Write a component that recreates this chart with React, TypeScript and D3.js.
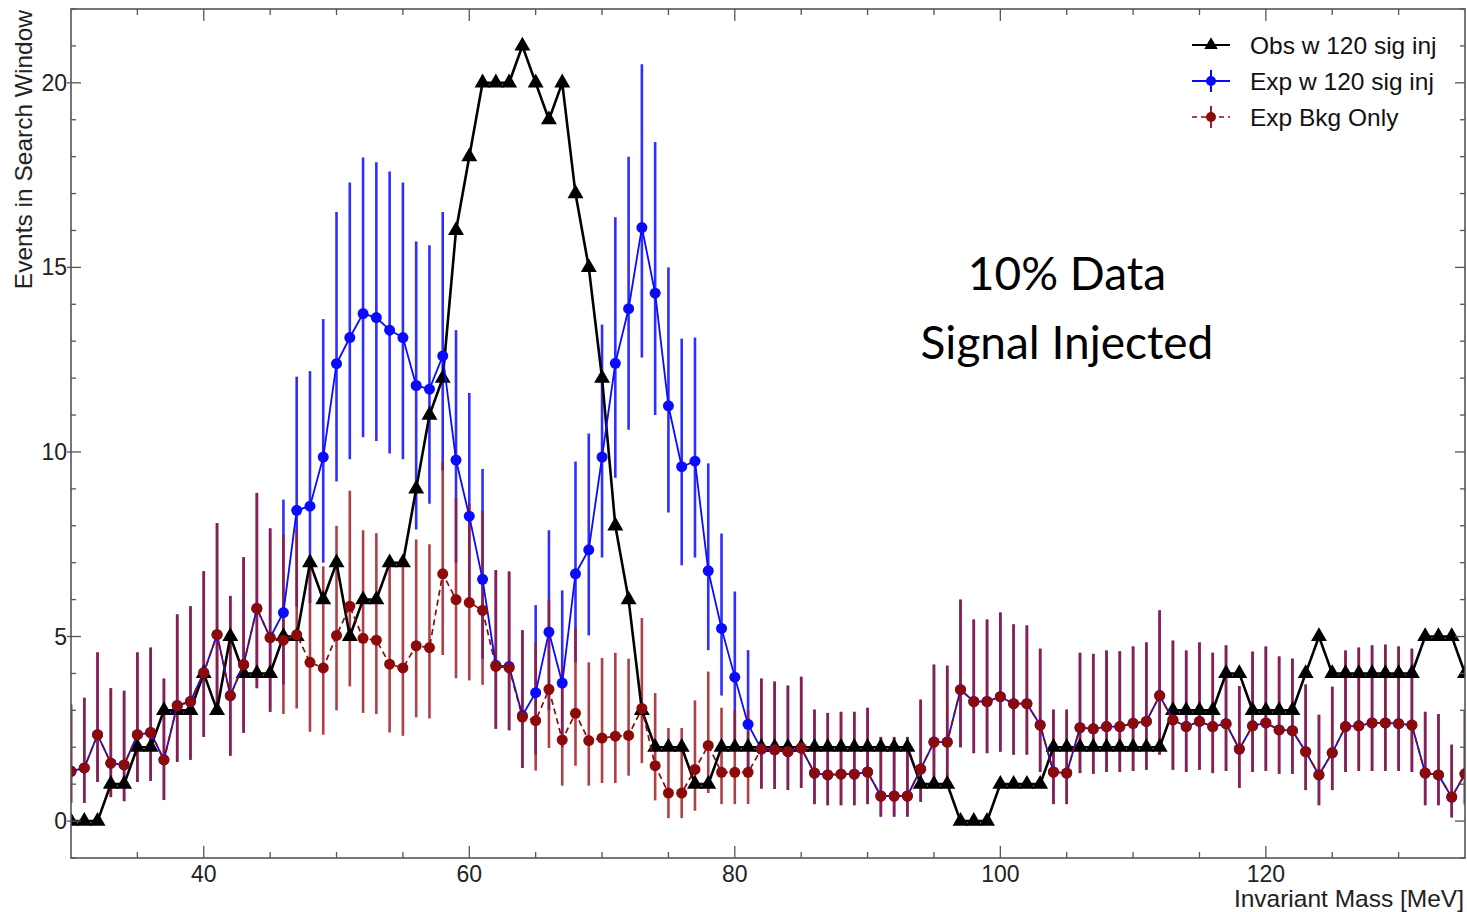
import React from "react";
import * as d3 from "d3";

// bin centres 30..135 MeV
const massBins = d3.range(30, 136);

// Obs w 120 sig inj
const obsCounts = [
  0, 0, 0, 1, 1, 2, 2, 3, 3, 3,
  4, 3, 5, 4, 4, 4, 5, 5, 7, 6,
  7, 5, 6, 6, 7, 7, 9, 11, 12, 16,
  18, 20, 20, 20, 21, 20, 19, 20, 17, 15,
  12, 8, 6, 3, 2, 2, 2, 1, 1, 2,
  2, 2, 2, 2, 2, 2, 2, 2, 2, 2, 2, 2, 2, 2,
  1, 1, 1, 0, 0, 0,
  1, 1, 1, 1,
  2, 2, 2, 2, 2, 2, 2, 2, 2,
  3, 3, 3, 3, 4, 4, 3, 3, 3, 3,
  4, 5, 4, 4, 4, 4, 4, 4, 4, 5, 5, 5, 4,
];

// Exp Bkg Only
const bkgMean = [
  1.35, 1.44, 2.34, 1.57, 1.52, 2.34, 2.4, 1.66, 3.13, 3.24,
  4.02, 5.05, 3.4, 4.24, 5.76, 4.97, 4.9, 5.05, 4.3, 4.15,
  5.03, 5.82, 4.95, 4.9, 4.25, 4.15, 4.75, 4.7, 6.7, 6.0,
  5.92, 5.71, 4.19, 4.15, 2.82, 2.72, 3.57, 2.2, 2.92, 2.18,
  2.25, 2.3, 2.32, 3.05, 1.5, 0.76, 0.76, 1.4, 2.05, 1.32,
  1.32, 1.32, 1.95, 1.93, 1.88, 1.98, 1.3, 1.25, 1.27, 1.27,
  1.33, 0.68, 0.68, 0.68, 1.41, 2.14, 2.14, 3.56, 3.24, 3.24,
  3.37, 3.18, 3.18, 2.6, 1.33, 1.3, 2.53, 2.5, 2.56, 2.56,
  2.65, 2.7, 3.4, 2.74, 2.56, 2.7, 2.56, 2.64, 1.95, 2.58,
  2.66, 2.47, 2.45, 1.88, 1.25, 1.85, 2.56, 2.58, 2.66, 2.66,
  2.64, 2.6, 1.3, 1.25, 0.65, 1.28,
];
const bkgLow = [
  0.49, 0.49, 1.06, 0.65, 0.54, 1.06, 1.09, 0.57, 1.6, 1.66,
  2.28, 3.1, 1.77, 2.39, 3.6, 2.96, 2.9, 3.05, 2.42, 2.34,
  3.0, 3.65, 2.93, 2.9, 2.4, 2.31, 2.81, 2.78, 4.5, 3.87,
  3.81, 3.69, 2.5, 2.46, 1.44, 1.37, 1.98, 0.96, 1.5, 0.96,
  1.03, 1.03, 1.23, 1.57, 0.56, 0.08, 0.08, 0.28, 0.76, 0.46,
  0.46, 0.46, 0.88, 0.87, 0.84, 0.9, 0.46, 0.43, 0.43, 0.43,
  0.46, 0.12, 0.12, 0.12, 0.52, 1.11, 1.11, 2.0, 1.84, 1.84,
  1.88, 1.8, 1.8, 1.33, 0.46, 0.46, 1.3, 1.28, 1.33, 1.33,
  1.36, 1.39, 1.8, 1.39, 1.33, 1.39, 1.3, 1.36, 0.9, 1.33,
  1.36, 1.28, 1.28, 0.84, 0.43, 0.84, 1.33, 1.36, 1.36, 1.36,
  1.36, 1.33, 0.43, 0.43, 0.1, 0.45,
];
const bkgHigh = [
  3.15, 3.34, 4.57, 3.6, 3.53, 4.57, 4.7, 3.86, 5.6, 5.82,
  6.77, 8.07, 6.1, 7.15, 8.89, 7.93, 7.76, 7.9, 7.05, 6.9,
  8.0, 8.95, 7.88, 7.8, 7.0, 6.9, 7.63, 7.5, 9.73, 8.75,
  8.6, 8.4, 6.8, 6.76, 5.17, 4.83, 5.98, 4.2, 5.24, 4.3,
  4.42, 4.56, 4.4, 5.5, 3.47, 2.52, 2.52, 3.27, 4.05, 3.07,
  3.0, 3.0, 3.86, 3.78, 3.67, 3.91, 3.02, 2.93, 2.96, 2.96,
  3.07, 2.28, 2.28, 2.28, 3.29, 4.24, 4.21, 6.0, 5.46, 5.46,
  5.65, 5.33, 5.3, 4.67, 3.02, 3.02, 4.56, 4.53, 4.62, 4.6,
  4.73, 4.84, 5.71, 4.89, 4.62, 4.84, 4.56, 4.76, 3.66, 4.59,
  4.73, 4.46, 4.4, 3.7, 2.88, 3.64, 4.62, 4.7, 4.76, 4.78,
  4.73, 4.67, 2.96, 2.9, 2.07, 3.0,
];

// Exp w 120 sig inj, where it departs from the background (46..81 MeV)
const SIG_START = 46;
const sigMean = [
  5.65, 8.42, 8.53, 9.86, 12.39, 13.1, 13.75, 13.64, 13.3, 13.1,
  11.8, 11.7, 12.6, 9.78, 8.26, 6.55, 4.22, 4.19, 2.86, 3.48,
  5.12, 3.74, 6.7, 7.35, 9.86, 12.4, 13.88, 16.08, 14.3, 11.25,
  9.6, 9.75, 6.78, 5.22, 3.9, 2.62,
];
const sigLow = [
  3.7, 5.8, 5.9, 7.0, 9.2, 9.8, 10.4, 10.3, 9.96, 9.8,
  7.9, 8.6, 9.5, 7.0, 5.8, 4.4, 2.5, 2.46, 1.44, 1.8,
  3.0, 2.0, 4.3, 5.03, 7.14, 9.3, 10.6, 12.56, 11.0, 8.36,
  6.93, 7.14, 4.63, 3.4, 2.2, 1.3,
];
const sigHigh = [
  8.71, 12.04, 12.19, 13.6, 16.5, 17.3, 17.98, 17.85, 17.6, 17.3,
  15.7, 15.6, 16.5, 13.3, 11.6, 9.54, 6.8, 6.76, 5.17, 5.85,
  7.88, 6.25, 9.74, 10.5, 13.45, 16.36, 18.0, 20.5, 18.4, 15.0,
  13.07, 13.1, 9.69, 7.79, 6.22, 4.63,
];

const xTickMajor = [40, 60, 80, 100, 120];
const yTickMajor = [0, 5, 10, 15, 20];

const legendItems = ["Obs w 120 sig inj", "Exp w 120 sig inj", "Exp Bkg Only"];

const W = 1467;
const H = 912;
const M = { left: 71, right: 2, top: 9, bottom: 54 };

const BLACK = "#000000";
const BLUE = "#0a0aff";
const RED = "#8c0a0a";
const RED_BAR = "#a01c24";
const AXIS = "#555555";
const FONT = "'Liberation Sans', Arial, Helvetica, sans-serif";

type Pt = { x: number; y: number; lo: number; hi: number };

export default function App() {
  const x = d3.scaleLinear().domain([30, 135]).range([M.left, W - M.right]);
  const y = d3.scaleLinear().domain([-1, 22]).range([H - M.bottom, M.top]);

  const obs = massBins.map((m, i) => ({ x: m, y: obsCounts[i] }));
  const bkg: Pt[] = massBins.map((m, i) => ({
    x: m,
    y: bkgMean[i],
    lo: bkgLow[i],
    hi: bkgHigh[i],
  }));
  const exp: Pt[] = massBins.map((m, i) => {
    const j = m - SIG_START;
    if (j >= 0 && j < sigMean.length) {
      return { x: m, y: sigMean[j], lo: sigLow[j], hi: sigHigh[j] };
    }
    return bkg[i];
  });

  const lineGen = d3
    .line<{ x: number; y: number }>()
    .x((d) => x(d.x))
    .y((d) => y(d.y));

  const tri = d3.symbol(d3.symbolTriangle, 110)()!;

  const x0 = M.left;
  const x1 = W - M.right;
  const y0 = H - M.bottom;
  const y1 = M.top;

  const xMinor = d3.range(35, 135, 5);
  const yMinor = d3.range(-1, 23, 1);

  const legendX = 1192;
  const legendRows = [45, 81, 117];

  return (
    <svg
      width={W}
      height={H}
      style={{ position: "absolute", left: 0, top: 0, background: "#fff" }}
      fontFamily={FONT}
    >
      <rect x={0} y={0} width={W} height={H} fill="#fff" />

      <defs>
        <clipPath id="plot">
          <rect x={x0} y={y1} width={x1 - x0} height={y0 - y1} />
        </clipPath>
      </defs>

      <g clipPath="url(#plot)">
        {/* error bars: signal-injected expectation first, background over it */}
        {exp.map((d) => (
          <line
            key={`eb-${d.x}`}
            x1={x(d.x)}
            x2={x(d.x)}
            y1={y(d.lo)}
            y2={y(d.hi)}
            stroke={BLUE}
            strokeWidth={2.6}
            opacity={0.85}
          />
        ))}
        {bkg.map((d) => (
          <line
            key={`rb-${d.x}`}
            x1={x(d.x)}
            x2={x(d.x)}
            y1={y(d.lo)}
            y2={y(d.hi)}
            stroke={RED_BAR}
            strokeWidth={2.6}
            opacity={0.84}
          />
        ))}

        {/* observed */}
        <path d={lineGen(obs)!} fill="none" stroke={BLACK} strokeWidth={2.6} />
        {obs.map((d) => (
          <path
            key={`tr-${d.x}`}
            d={tri}
            transform={`translate(${x(d.x)},${y(d.y)})`}
            fill={BLACK}
          />
        ))}

        {/* expected with signal */}
        <path d={lineGen(exp)!} fill="none" stroke={BLUE} strokeWidth={1.8} />
        {exp.map((d) => (
          <circle key={`bc-${d.x}`} cx={x(d.x)} cy={y(d.y)} r={5.5} fill={BLUE} />
        ))}

        {/* background only */}
        <path
          d={lineGen(bkg)!}
          fill="none"
          stroke={RED}
          strokeWidth={1.7}
          strokeDasharray="6,4"
        />
        {bkg.map((d) => (
          <circle key={`rc-${d.x}`} cx={x(d.x)} cy={y(d.y)} r={5.5} fill={RED} />
        ))}
      </g>

      {/* frame */}
      <rect
        x={x0}
        y={y1}
        width={x1 - x0}
        height={y0 - y1}
        fill="none"
        stroke={AXIS}
        strokeWidth={1.6}
      />

      {/* x ticks, bottom and top, pointing inward */}
      {xMinor.map((v) => {
        const major = xTickMajor.includes(v);
        const len = major ? 12 : 6;
        return (
          <g key={`xt-${v}`} stroke={AXIS} strokeWidth={1.3}>
            <line x1={x(v)} x2={x(v)} y1={y0} y2={y0 - len} />
            <line x1={x(v)} x2={x(v)} y1={y1} y2={y1 + len} />
          </g>
        );
      })}
      {/* y ticks, left and right */}
      {yMinor.map((v) => {
        const major = yTickMajor.includes(v);
        const len = major ? 10 : 5;
        return (
          <g key={`yt-${v}`} stroke={AXIS} strokeWidth={1.3}>
            <line x1={x0 - (major ? 4 : 0)} x2={x0 + len} y1={y(v)} y2={y(v)} />
            <line x1={x1} x2={x1 - len} y1={y(v)} y2={y(v)} />
          </g>
        );
      })}

      {xTickMajor.map((v) => (
        <text
          key={`xl-${v}`}
          x={x(v)}
          y={y0 + 24}
          textAnchor="middle"
          fontSize={23}
          fill="#222"
        >
          {v}
        </text>
      ))}
      {yTickMajor.map((v) => (
        <text
          key={`yl-${v}`}
          x={x0 - 4}
          y={y(v) + 8}
          textAnchor="end"
          fontSize={23}
          fill="#222"
        >
          {v}
        </text>
      ))}

      <text x={W - 3} y={907} textAnchor="end" fontSize={24.5} fill="#222">
        Invariant Mass [MeV]
      </text>
      <text
        transform={`translate(32,10) rotate(-90)`}
        textAnchor="end"
        fontSize={24.5}
        fill="#222"
      >
        Events in Search Window
      </text>

      {/* annotation */}
      <g fontFamily="Lato, 'Open Sans', sans-serif" fontSize={46} fill="#000" textAnchor="middle">
        <text x={1067} y={290}>10% Data</text>
        <text x={1067} y={359}>Signal Injected</text>
      </g>

      {/* legend */}
      {legendItems.map((label, i) => {
        const ly = legendRows[i];
        const cx = legendX + 19;
        return (
          <g key={label}>
            {i === 0 && (
              <>
                <line x1={legendX} x2={legendX + 38} y1={ly} y2={ly} stroke={BLACK} strokeWidth={2.2} />
                <path d={d3.symbol(d3.symbolTriangle, 80)()!} transform={`translate(${cx},${ly})`} fill={BLACK} />
              </>
            )}
            {i === 1 && (
              <>
                <line x1={legendX} x2={legendX + 38} y1={ly} y2={ly} stroke={BLUE} strokeWidth={1.8} />
                <line x1={cx} x2={cx} y1={ly - 11} y2={ly + 11} stroke={BLUE} strokeWidth={2} />
                <circle cx={cx} cy={ly} r={5} fill={BLUE} />
              </>
            )}
            {i === 2 && (
              <>
                <line x1={legendX} x2={legendX + 38} y1={ly} y2={ly} stroke={RED} strokeWidth={1.6} strokeDasharray="5,4" />
                <line x1={cx} x2={cx} y1={ly - 11} y2={ly + 11} stroke={RED_BAR} strokeWidth={2} />
                <circle cx={cx} cy={ly} r={5} fill={RED} />
              </>
            )}
            <text x={legendX + 58} y={ly + 8.5} fontSize={24.5} fill="#111">
              {label}
            </text>
          </g>
        );
      })}
    </svg>
  );
}
